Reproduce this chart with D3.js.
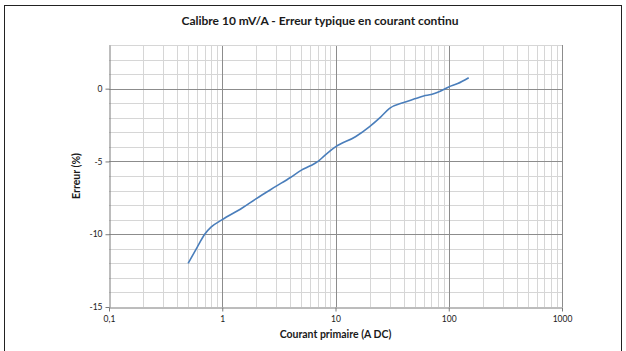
<!DOCTYPE html>
<html>
<head>
<meta charset="utf-8">
<script src="https://cdn.jsdelivr.net/npm/d3@7"></script>
<style>
  body { margin: 0; background: #fff; }
  text { font-family: Lato, "Open Sans", sans-serif; fill: #1a1a1a; }
</style>
</head>
<body>
<div id="chart"></div>
<script>
// courant primaire (A DC) and erreur (%)
const courant = [0.5, 0.6, 0.7, 0.8, 1, 1.5, 2, 3, 4, 5, 6, 7, 8, 10, 15, 20, 25, 30, 40, 50, 60, 70, 80, 100, 120, 150];
const erreur = [-12, -10.9, -10, -9.5, -9, -8.2, -7.55, -6.7, -6.1, -5.6, -5.3, -5.0, -4.6, -4.0, -3.3, -2.6, -1.95, -1.35, -0.95, -0.7, -0.5, -0.4, -0.25, 0.12, 0.35, 0.75];
const xTicks = [0.1, 1, 10, 100, 1000];
const xTickLabels = ["0,1", "1", "10", "100", "1000"];
const yTicks = [0, -5, -10, -15];

const W = 626, H = 351;
const margin = { top: 45, right: 64, bottom: 44, left: 109 };

const svg = d3.select("#chart").append("svg")
  .attr("width", W)
  .attr("height", H);

// outer frame
svg.append("rect")
  .attr("x", 4.5).attr("y", 5.5)
  .attr("width", 617).attr("height", 350)
  .attr("fill", "none")
  .attr("stroke", "#222")
  .attr("stroke-width", 1);

const x = d3.scaleLog()
  .domain([0.1, 1000])
  .range([margin.left, W - margin.right]);

const y = d3.scaleLinear()
  .domain([-15, 3])
  .range([H - margin.bottom, margin.top]);

// minor grid
const minorX = [];
for (let d = 0.1; d < 1000; d *= 10) {
  for (let k = 2; k <= 9; k++) minorX.push(d * k);
}
const minorY = d3.range(-14, 4).filter(v => v % 5 !== 0);

const grid = svg.append("g");
grid.selectAll(".mx").data(minorX).join("line")
  .attr("x1", d => Math.round(x(d)) + 0.5).attr("x2", d => Math.round(x(d)) + 0.5)
  .attr("y1", y(3)).attr("y2", y(-15))
  .attr("stroke", "#d6d6d6");
grid.selectAll(".my").data(minorY).join("line")
  .attr("x1", x(0.1)).attr("x2", x(1000))
  .attr("y1", d => Math.round(y(d)) + 0.5).attr("y2", d => Math.round(y(d)) + 0.5)
  .attr("stroke", "#d6d6d6");

// major grid
grid.selectAll(".Mx").data(xTicks.slice(1)).join("line")
  .attr("x1", d => Math.round(x(d)) + 0.5).attr("x2", d => Math.round(x(d)) + 0.5)
  .attr("y1", y(3)).attr("y2", y(-15))
  .attr("stroke", "#8c8c8c");
grid.selectAll(".My").data(yTicks.slice(0, 3).concat([3])).join("line")
  .attr("x1", x(0.1)).attr("x2", x(1000))
  .attr("y1", d => Math.round(y(d)) + 0.5).attr("y2", d => Math.round(y(d)) + 0.5)
  .attr("stroke", d => d === 3 ? "#d6d6d6" : "#8c8c8c");

// axes
const xAxis = svg.append("g")
  .attr("transform", `translate(0,${Math.round(y(-15)) + 0.5})`)
  .call(d3.axisBottom(x).tickValues(xTicks).tickFormat((d, i) => xTickLabels[i]).tickSize(4).tickSizeOuter(0));
const yAxis = svg.append("g")
  .attr("transform", `translate(${Math.round(x(0.1)) + 0.5},0)`)
  .call(d3.axisLeft(y).tickValues(yTicks).tickFormat(d => d).tickSize(4).tickSizeOuter(0));

[xAxis, yAxis].forEach(a => {
  a.select(".domain").attr("stroke", "#7a7a7a");
  a.selectAll(".tick line").attr("stroke", "#7a7a7a");
  a.selectAll(".tick text").style("font-family", "Lato, sans-serif").style("font-size", "8.5px").attr("fill", "#1a1a1a");
});
xAxis.selectAll(".tick text").attr("dy", "0.9em");

// curve
const pts = courant.map((c, i) => [c, erreur[i]]);
svg.append("path")
  .datum(pts)
  .attr("fill", "none")
  .attr("stroke", "#4a7ebb")
  .attr("stroke-width", 1.6)
  .attr("d", d3.line().x(d => x(d[0])).y(d => y(d[1])).curve(d3.curveMonotoneX));

// titles
svg.append("text")
  .attr("x", 320).attr("y", 25)
  .attr("text-anchor", "middle")
  .style("font-size", "12px").style("font-weight", "bold")
  .text("Calibre 10 mV/A - Erreur typique en courant continu");

svg.append("text")
  .attr("x", (x(0.1) + x(1000)) / 2).attr("y", 338)
  .attr("text-anchor", "middle")
  .style("font-size", "10.5px").style("font-weight", "bold")
  .text("Courant primaire (A DC)");

svg.append("text")
  .attr("transform", `translate(80,${176}) rotate(-90)`)
  .attr("text-anchor", "middle")
  .style("font-size", "10.5px").style("font-weight", "bold")
  .text("Erreur (%)");
</script>
</body>
</html>
